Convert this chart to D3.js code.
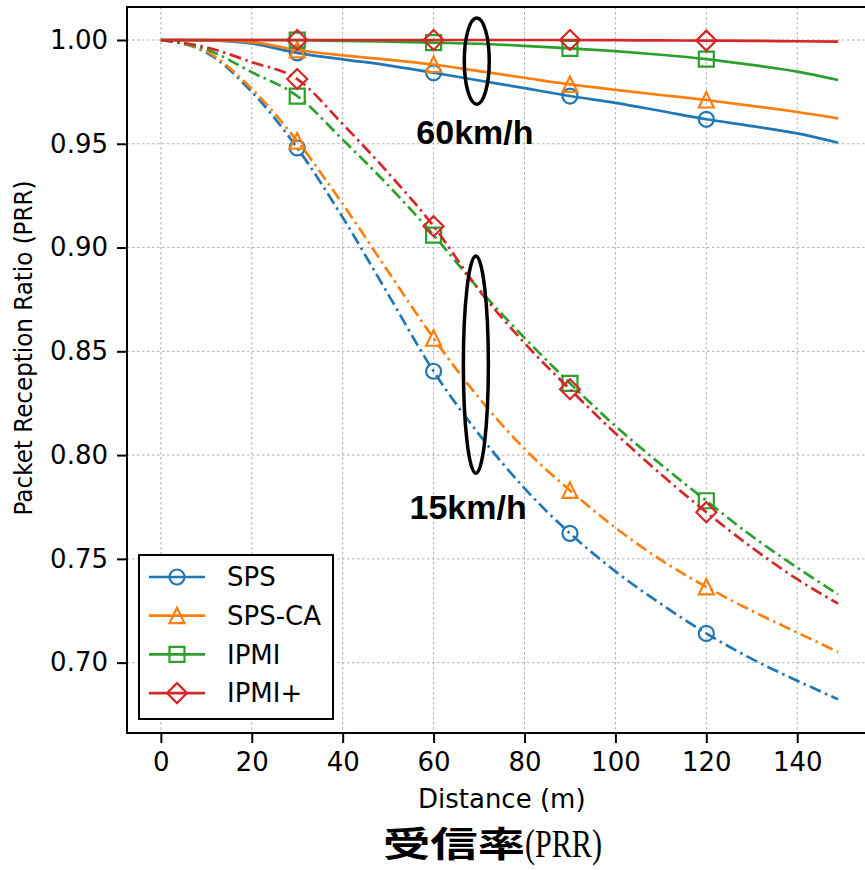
<!DOCTYPE html>
<html>
<head>
<meta charset="utf-8">
<script src="https://cdn.jsdelivr.net/npm/d3@7"></script>
<style>
  body { margin: 0; background: #fff; }
  svg { display: block; }
</style>
</head>
<body>
<div id="chart"></div>
<script>
const distance = [0, 10, 20, 30, 40, 50, 60, 70, 80, 90, 100, 110, 120, 130, 140, 149];
const markerDistance = [30, 60, 90, 120];
const names = ["SPS", "SPS-CA", "IPMI", "IPMI+"];
const colors = ["#1f77b4", "#ff7f0e", "#2ca02c", "#d62728"];
const shapes = ["circle", "triangle", "square", "diamond"];

// 60km/h -> solid lines
const sps60 = [1.0, 0.9998, 0.9983, 0.9938, 0.9907, 0.9878, 0.9842, 0.9805, 0.9768, 0.9730, 0.9697, 0.9658, 0.9618, 0.9585, 0.9550, 0.9505];
const spsCa60 = [1.0, 0.9999, 0.9990, 0.9952, 0.9926, 0.9905, 0.9882, 0.9850, 0.9818, 0.9786, 0.9760, 0.9735, 0.9711, 0.9683, 0.9653, 0.9622];
const ipmi60 = [1.0, 1.0, 1.0, 0.9999, 0.9996, 0.9992, 0.9987, 0.9982, 0.9972, 0.9960, 0.9946, 0.9929, 0.9908, 0.9880, 0.9848, 0.9807];
const ipmiPlus60 = [1.0, 1.0, 1.0, 1.0, 1.0, 1.0, 1.0, 1.0, 1.0, 1.0, 0.9999, 0.9998, 0.9997, 0.9996, 0.9994, 0.9992];

// 15km/h -> dash-dot lines
const sps15 = [1.0, 0.9940, 0.9750, 0.9480, 0.9145, 0.8775, 0.8404, 0.8100, 0.7840, 0.7623, 0.7440, 0.7283, 0.7141, 0.7018, 0.6913, 0.6823];
const spsCa15 = [1.0, 0.9945, 0.9765, 0.9513, 0.9210, 0.8885, 0.8563, 0.8275, 0.8030, 0.7830, 0.7650, 0.7495, 0.7365, 0.7250, 0.7145, 0.7051];
const ipmi15 = [1.0, 0.9955, 0.9845, 0.9730, 0.9520, 0.9300, 0.9060, 0.8800, 0.8565, 0.8346, 0.8140, 0.7955, 0.7780, 0.7610, 0.7458, 0.7329];
const ipmiPlus15 = [1.0, 0.9965, 0.9893, 0.9812, 0.9595, 0.9360, 0.9103, 0.8795, 0.8540, 0.8317, 0.8105, 0.7908, 0.7725, 0.7555, 0.7402, 0.7284];

const xTicks = [0, 20, 40, 60, 80, 100, 120, 140];
const yTicks = [0.70, 0.75, 0.80, 0.85, 0.90, 0.95, 1.00];

const W = 865, H = 870;
const plotLeft = 127, plotTop = 7, plotW = 745, plotH = 726;

const svg = d3.select("#chart").append("svg").attr("width", W).attr("height", H);
svg.append("rect").attr("width", W).attr("height", H).attr("fill", "#fff");

const x = d3.scaleLinear().domain([-7.45, 156.45]).range([plotLeft, plotLeft + plotW]);
const y = d3.scaleLinear().domain([0.6661, 1.0159]).range([plotTop + plotH, plotTop]);

// grid
const grid = svg.append("g");
grid.selectAll(".gx").data(xTicks).enter().append("line")
  .attr("x1", d => x(d)).attr("x2", d => x(d))
  .attr("y1", plotTop).attr("y2", plotTop + plotH)
  .attr("stroke", "#b0b0b0").attr("stroke-width", 1).attr("stroke-dasharray", "2.5,2.5");
grid.selectAll(".gy").data(yTicks).enter().append("line")
  .attr("x1", plotLeft).attr("x2", plotLeft + plotW)
  .attr("y1", d => y(d)).attr("y2", d => y(d))
  .attr("stroke", "#b0b0b0").attr("stroke-width", 1).attr("stroke-dasharray", "2.5,2.5");

function markerPath(shape) {
  const p = d3.path();
  if (shape === "circle") {
    p.arc(0, 0, 7.5, 0, 2 * Math.PI);
  } else if (shape === "triangle") {
    p.moveTo(0, -8); p.lineTo(-7.5, 7.5); p.lineTo(7.5, 7.5); p.closePath();
  } else if (shape === "square") {
    p.rect(-7.5, -7.5, 15, 15);
  } else {
    p.moveTo(0, -10); p.lineTo(10, 0); p.lineTo(0, 10); p.lineTo(-10, 0); p.closePath();
  }
  return p.toString();
}

const series = [
  { i: 0, values: sps60, dash: null },
  { i: 1, values: spsCa60, dash: null },
  { i: 2, values: ipmi60, dash: null },
  { i: 3, values: ipmiPlus60, dash: null },
  { i: 0, values: sps15, dash: "12,4.5,2.5,4.5" },
  { i: 1, values: spsCa15, dash: "12,4.5,2.5,4.5" },
  { i: 2, values: ipmi15, dash: "12,4.5,2.5,4.5" },
  { i: 3, values: ipmiPlus15, dash: "12,4.5,2.5,4.5" }
];

const line = d3.line()
  .x(d => x(d.d))
  .y(d => y(d.v))
  .curve(d3.curveMonotoneX);

const plot = svg.append("g");
series.forEach(s => {
  const pts = distance.map((d, k) => ({ d: d, v: s.values[k] }));
  plot.append("path")
    .datum(pts)
    .attr("fill", "none")
    .attr("stroke", colors[s.i])
    .attr("stroke-width", 2.7)
    .attr("stroke-dasharray", s.dash)
    .attr("d", line);
  plot.selectAll(null)
    .data(pts.filter(p => markerDistance.includes(p.d)))
    .enter().append("path")
    .attr("transform", p => `translate(${x(p.d)},${y(p.v)})`)
    .attr("d", markerPath(shapes[s.i]))
    .attr("fill", "none")
    .attr("stroke", colors[s.i])
    .attr("stroke-width", 2.2);
});

// spines
svg.append("rect")
  .attr("x", plotLeft).attr("y", plotTop).attr("width", plotW).attr("height", plotH)
  .attr("fill", "none").attr("stroke", "#000").attr("stroke-width", 2);

// axes
const xAxis = svg.append("g")
  .attr("transform", `translate(0,${plotTop + plotH})`)
  .call(d3.axisBottom(x).tickValues(xTicks).tickSize(10).tickSizeOuter(0).tickPadding(10));
const yAxis = svg.append("g")
  .attr("transform", `translate(${plotLeft},0)`)
  .call(d3.axisLeft(y).tickValues(yTicks).tickFormat(d3.format(".2f")).tickSize(10).tickSizeOuter(0).tickPadding(9));
[xAxis, yAxis].forEach(a => {
  a.select(".domain").remove();
  a.selectAll(".tick line").attr("stroke", "#000").attr("stroke-width", 2);
  a.selectAll(".tick text")
    .attr("fill", "#000")
    .style("font-family", "DejaVu Sans")
    .style("font-size", "26px");
});

svg.append("text")
  .attr("x", x(75)).attr("y", 808)
  .attr("text-anchor", "middle")
  .style("font-family", "DejaVu Sans").style("font-size", "26px")
  .text("Distance (m)");

svg.append("text")
  .attr("transform", "translate(32,348) rotate(-90)")
  .attr("text-anchor", "middle")
  .attr("textLength", 335).attr("lengthAdjust", "spacingAndGlyphs")
  .style("font-family", "DejaVu Sans").style("font-size", "24px")
  .text("Packet Reception Ratio (PRR)");

// annotations: speed groups
const speedNotes = [
  { label: "60km/h", d: 69.5, hi: 1.0106, lo: 0.9691, textD: 56.2, textV: 0.9499 },
  { label: "15km/h", d: 69.3, hi: 0.8959, lo: 0.7912, textD: 54.7, textV: 0.7690 }
];
speedNotes.forEach(n => {
  svg.append("ellipse")
    .attr("cx", x(n.d))
    .attr("cy", (y(n.hi) + y(n.lo)) / 2)
    .attr("rx", 12.5)
    .attr("ry", (y(n.lo) - y(n.hi)) / 2)
    .attr("fill", "none").attr("stroke", "#000").attr("stroke-width", 3.5);
  svg.append("text")
    .attr("x", x(n.textD)).attr("y", y(n.textV))
    .style("font-family", "Liberation Sans, Arial, sans-serif")
    .style("font-weight", "bold").style("font-size", "34px")
    .text(n.label);
});

// legend
const legend = svg.append("g");
legend.append("rect")
  .attr("x", 139).attr("y", 555).attr("width", 194).attr("height", 164)
  .attr("fill", "#fff").attr("stroke", "#000").attr("stroke-width", 2);
names.forEach((name, i) => {
  const ly = 577 + i * 38.7;
  legend.append("line")
    .attr("x1", 149).attr("x2", 205).attr("y1", ly).attr("y2", ly)
    .attr("stroke", colors[i]).attr("stroke-width", 2.7);
  legend.append("path")
    .attr("transform", `translate(177,${ly})`)
    .attr("d", markerPath(shapes[i]))
    .attr("fill", "none").attr("stroke", colors[i]).attr("stroke-width", 2.2);
  legend.append("text")
    .attr("x", 227).attr("y", ly).attr("dy", "0.36em")
    .style("font-family", "DejaVu Sans").style("font-size", "26px")
    .text(name);
});

// caption
svg.append("text")
  .attr("x", 383).attr("y", 857)
  .attr("textLength", 142).attr("lengthAdjust", "spacingAndGlyphs")
  .style("font-family", "Noto Sans CJK JP").style("font-weight", "bold").style("font-size", "35px")
  .text("受信率");
svg.append("text")
  .attr("x", 525).attr("y", 857)
  .attr("textLength", 77).attr("lengthAdjust", "spacingAndGlyphs")
  .style("font-family", "Liberation Serif, serif").style("font-size", "40px")
  .text("(PRR)");
</script>
</body>
</html>
